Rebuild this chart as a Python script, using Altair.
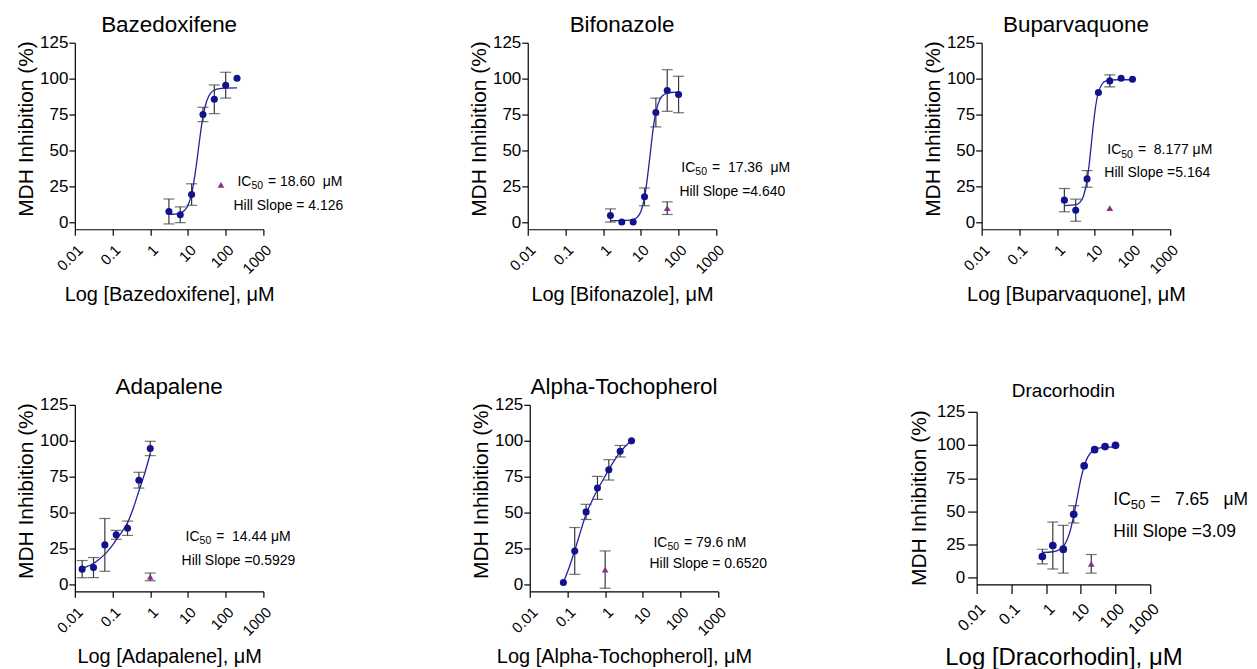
import altair as alt
import pandas as pd

FONT = "Liberation Sans"
NB = "\u00a0"
X_TICKS = [0.01, 0.1, 1, 10, 100, 1000]
Y_TICKS = [0, 25, 50, 75, 100, 125]

PT_COLOR = "#12128c"
LINE_COLOR = "#2323a0"
ERR_COLOR = "#383838"
TRI_COLOR = "#8a2f86"

# ---------------- data ----------------
# Bazedoxifene
baz_conc = [3.125, 6.25, 12.5, 25, 50, 100, 200]
baz_mean = [7.4, 5.1, 19.2, 75.0, 85.6, 95.4, 100.2]
baz_sd = [8.7, 5.5, 7.5, 5.0, 10.0, 9.0, None]
baz_fit_x = [3.125, 4.0, 5.0, 6.31, 7.94, 10.0, 12.6, 15.8, 17.8, 20.0, 22.4, 25.1, 31.6, 39.8, 50.1, 63.1, 100, 200]
baz_fit_y = [5.4, 5.45, 5.7, 6.3, 7.9, 11.6, 20.0, 35.3, 45.4, 55.8, 65.5, 73.7, 84.6, 89.8, 92.0, 92.9, 93.4, 93.5]
baz_tri_conc = [75]
baz_tri_mean = [26]
baz_tri_sd = [None]

# Bifonazole
bif_conc = [1.5625, 3.125, 6.25, 12.5, 25, 50, 100]
bif_mean = [4.6, 0.0, 0.0, 17.6, 76.4, 91.7, 88.9]
bif_sd = [4.6, None, None, 6.2, 10.0, 14.5, 12.7]
bif_fit_x = [1.5625, 3.16, 5.01, 6.31, 7.94, 10.0, 12.6, 15.8, 17.8, 20.0, 22.4, 25.1, 31.6, 39.8, 50.1, 63.1, 100]
bif_fit_y = [1.0, 1.05, 1.3, 1.8, 3.3, 7.4, 17.5, 36.4, 48.2, 59.7, 69.5, 76.8, 85.3, 88.6, 89.9, 90.3, 90.5]
bif_tri_conc = [50]
bif_tri_mean = [9.7]
bif_tri_sd = [4.4]

# Buparvaquone
bup_conc = [1.5625, 3.125, 6.25, 12.5, 25, 50, 100]
bup_mean = [15.3, 8.3, 30.1, 90.3, 98.4, 100.3, 99.5]
bup_sd = [8.1, 7.7, 5.8, None, 4.2, None, None]
bup_fit_x = [1.5625, 3.16, 3.98, 5.01, 6.31, 7.08, 7.94, 8.91, 10.0, 11.2, 12.6, 15.8, 20.0, 25.1, 39.8, 100]
bup_fit_y = [11.5, 12.15, 13.6, 18.0, 29.7, 39.8, 52.1, 64.9, 76.3, 84.9, 90.7, 96.4, 98.4, 98.9, 99.2, 99.2]
bup_tri_conc = [25]
bup_tri_mean = [9.7]
bup_tri_sd = [None]

# Adapalene
ada_conc = [0.015625, 0.03125, 0.0625, 0.125, 0.25, 0.5, 1.0]
ada_mean = [10.5, 11.6, 27.4, 34.4, 39.0, 72.5, 94.6]
ada_sd = [6.0, 7.0, 18.4, 3.1, 5.0, 5.5, 5.0]
ada_fit_x = [0.015625, 0.0224, 0.0316, 0.0447, 0.0631, 0.0891, 0.126, 0.178, 0.251, 0.355, 0.501, 0.708, 1.0]
ada_fit_y = [11.0, 12.6, 14.5, 17.5, 21.0, 25.5, 31.0, 36.5, 43.0, 53.0, 65.0, 77.0, 91.0]
ada_tri_conc = [1.0]
ada_tri_mean = [5.1]
ada_tri_sd = [2.7]

# Alpha-Tochopherol
alp_conc = [0.078, 0.156, 0.3125, 0.625, 1.25, 2.5, 5.0]
alp_mean = [1.2, 23.2, 50.4, 67.1, 79.7, 92.7, 99.9]
alp_sd = [None, 16.3, 5.3, 8.0, 7.1, 4.0, None]
alp_fit_x = [0.078, 0.112, 0.156, 0.224, 0.3125, 0.447, 0.625, 0.891, 1.25, 1.78, 2.5, 3.55, 5.0]
alp_fit_y = [1.2, 12.0, 23.5, 37.0, 49.0, 58.0, 66.0, 73.0, 80.0, 86.5, 92.0, 96.5, 100.0]
alp_tri_conc = [1.0]
alp_tri_mean = [10.2]
alp_tri_sd = [13.0]

# Dracorhodin
dra_conc = [0.78, 1.5625, 3.125, 6.25, 12.5, 25, 50, 100]
dra_mean = [16.0, 24.3, 21.5, 47.8, 84.3, 96.5, 98.8, 99.8]
dra_sd = [5.5, 17.7, 18.0, 6.5, None, None, None, None]
dra_fit_x = [0.78, 1.58, 2.51, 3.16, 3.98, 5.01, 6.31, 7.94, 10.0, 12.6, 15.8, 20.0, 25.1, 39.8, 63.1, 100]
dra_fit_y = [19.1, 19.6, 21.5, 23.9, 28.3, 35.9, 47.3, 61.0, 74.3, 84.4, 90.9, 94.6, 96.5, 98.0, 98.4, 98.5]
dra_tri_conc = [20]
dra_tri_mean = [10.5]
dra_tri_sd = [7.0]

# annotation texts
baz_ann = ["=" + NB + "18.60" + NB * 2 + "\u03bcM", "Hill Slope = 4.126"]
bif_ann = ["=" + NB * 2 + "17.36" + NB * 2 + "\u03bcM", "Hill Slope =4.640"]
bup_ann = ["=" + NB * 2 + "8.177" + NB + "\u03bcM", "Hill Slope =5.164"]
ada_ann = ["=" + NB * 2 + "14.44" + NB + "\u03bcM", "Hill Slope =0.5929"]
alp_ann = ["=" + NB + "79.6" + NB + "nM", "Hill Slope = 0.6520"]
dra_ann = ["=" + NB * 3 + "7.65" + NB * 3 + "\u03bcM", "Hill Slope =3.09"]


def make_df(conc, mean, sd):
    return pd.DataFrame({"conc": conc, "val": mean, "sd": sd})


def err_df(conc, mean, sd):
    rows = [{"conc": c, "low": m - s, "high": m + s} for c, m, s in zip(conc, mean, sd) if s is not None]
    return pd.DataFrame(rows, columns=["conc", "low", "high"])


def panel(name, conc, mean, sd, fx, fy, tconc, tmean, tsd, ann, ann_pos, big=False):
    w, h = (174, 173) if big else (189, 187)
    tick = 9 if big else 6
    xs = alt.Scale(type="log", domain=[0.01, 1000], nice=False)
    ys = alt.Scale(domain=[-5, 125], nice=False, zero=False)
    xtitle = "Log [" + name + "], \u03bcM"
    ytitle = "MDH Inhibition (%)"
    xa = alt.Axis(values=X_TICKS, format="~g", labelAngle=315, labelAlign="right",
                  labelBaseline="top", labelFont=FONT, labelFontSize=16 if big else 15,
                  labelColor="black", labelFlush=False, labelOverlap=False,
                  labelPadding=7, tickSize=tick, tickColor="black", tickWidth=1.2,
                  domainColor="black", domainWidth=1.2, grid=False,
                  titleFont=FONT, titleFontSize=24 if big else 20, titleFontWeight="normal",
                  titleColor="black", titleY=80 if big else 71, titleBaseline="alphabetic")
    ya = alt.Axis(values=Y_TICKS, labelFont=FONT, labelFontSize=17, labelColor="black",
                  labelPadding=3 if big else 1, tickSize=tick, tickColor="black", tickWidth=1.2,
                  domainColor="black", domainWidth=1.2, grid=False,
                  titleFont=FONT, titleFontSize=21, titleFontWeight="normal", titleColor="black",
                  titleAngle=270, titleX=-51 if big else -42, titleY=86,
                  titleBaseline="alphabetic", titleAlign="center")

    def X(f):
        return alt.X(f, type="quantitative", scale=xs, axis=xa, title=xtitle)

    def Y(f):
        return alt.Y(f, type="quantitative", scale=ys, axis=ya, title=ytitle)

    pts = make_df(conc, mean, sd)
    errs = err_df(conc, mean, sd)
    fit = pd.DataFrame({"conc": fx, "val": fy})
    tri = make_df(tconc, tmean, tsd)
    terr = err_df(tconc, tmean, tsd)

    layers = [
        alt.Chart(fit).mark_line(color=LINE_COLOR, strokeWidth=1.3, interpolate="monotone")
        .encode(x=X("conc"), y=Y("val")),
    ]
    for edf, col in ((errs, ERR_COLOR), (terr, ERR_COLOR)):
        if len(edf):
            layers += [
                alt.Chart(edf).mark_rule(color=col, strokeWidth=1.2)
                .encode(x=X("conc"), y=Y("low"), y2="high"),
                alt.Chart(edf).mark_tick(orient="horizontal", size=11, thickness=1.2, color=col)
                .encode(x=X("conc"), y=Y("low")),
                alt.Chart(edf).mark_tick(orient="horizontal", size=11, thickness=1.2, color=col)
                .encode(x=X("conc"), y=Y("high")),
            ]
    layers += [
        alt.Chart(pts).mark_circle(size=60 if big else 50, color=PT_COLOR, opacity=1)
        .encode(x=X("conc"), y=Y("val")),
        alt.Chart(tri).mark_point(shape="triangle-up", filled=True, size=45, color=TRI_COLOR, opacity=1)
        .encode(x=X("conc"), y=Y("val")),
    ]

    fs = 17.5 if big else 14
    sub = round(fs * 0.75, 1)

    def txt(pos, s, size, dx=0, dy=0):
        return alt.Chart(alt.Data(values=[{"t": s}])).mark_text(
            align="left", baseline="middle", font=FONT, fontSize=size, dx=dx, dy=dy, color="black"
        ).encode(
            x=alt.XDatum(pos[0], type="quantitative", scale=xs, axis=xa, title=xtitle),
            y=alt.YDatum(pos[1], type="quantitative", scale=ys, axis=ya, title=ytitle),
            text="t:N",
        )

    ic_pos, hill_pos = ann_pos
    layers += [
        txt(ic_pos, "IC", fs),
        txt(ic_pos, "50", sub, dx=fs, dy=fs * 0.3),
        txt(ic_pos, ann[0], fs, dx=fs + 1.112 * sub + 5),
        txt(hill_pos, ann[1], fs),
    ]

    title = alt.TitleParams(name, font=FONT, fontSize=19 if big else 22.5, fontWeight="normal",
                            color="black", anchor="middle", baseline="alphabetic",
                            offset=-13.5 if big else -20.5)
    return alt.layer(*layers).properties(width=w, height=h, title=title)


p1 = panel("Bazedoxifene", baz_conc, baz_mean, baz_sd, baz_fit_x, baz_fit_y,
           baz_tri_conc, baz_tri_mean, baz_tri_sd, baz_ann, ((205, 27.8), (161, 11.1)))
p2 = panel("Bifonazole", bif_conc, bif_mean, bif_sd, bif_fit_x, bif_fit_y,
           bif_tri_conc, bif_tri_mean, bif_tri_sd, bif_ann, ((118.6, 37.5), (105, 20.9)))
p3 = panel("Buparvaquone", bup_conc, bup_mean, bup_sd, bup_fit_x, bup_fit_y,
           bup_tri_conc, bup_tri_mean, bup_tri_sd, bup_ann, ((21.5, 50), (17.9, 34)))
p4 = panel("Adapalene", ada_conc, ada_mean, ada_sd, ada_fit_x, ada_fit_y,
           ada_tri_conc, ada_tri_mean, ada_tri_sd, ada_ann, ((8.65, 32.9), (6.78, 16.2)))
p5 = panel("Alpha-Tochopherol", alp_conc, alp_mean, alp_sd, alp_fit_x, alp_fit_y,
           alp_tri_conc, alp_tri_mean, alp_tri_sd, alp_ann, ((19.06, 28.7), (15.0, 14.1)))
p6 = panel("Dracorhodin", dra_conc, dra_mean, dra_sd, dra_fit_x, dra_fit_y,
           dra_tri_conc, dra_tri_mean, dra_tri_sd, dra_ann, ((86.5, 58.6), (86.5, 34.6)), big=True)

# a 1x1 empty view that lowers the last panel a little, as in the original layout
spacer = alt.Chart(pd.DataFrame({"a": [0]})).mark_point(opacity=0, size=1).encode(
    x=alt.value(0), y=alt.value(0)
).properties(width=1, height=1)

row1 = alt.hconcat(alt.hconcat(p1, p2, spacing=124), p3, spacing=131)
row2 = alt.hconcat(alt.hconcat(p4, p5, spacing=174), alt.vconcat(spacer, p6, spacing=-24), spacing=142)

chart = alt.vconcat(row1, row2, spacing=72).properties(
    padding={"left": 7, "top": 5, "right": 0, "bottom": 0},
    background="white",
).configure_view(strokeWidth=0)

chart.save("out.html", embed_options={"renderer": "svg", "actions": False})
